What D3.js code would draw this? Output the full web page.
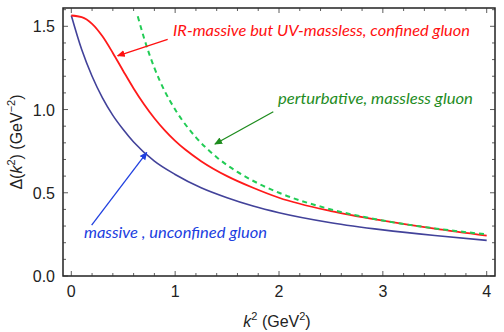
<!DOCTYPE html>
<html>
<head>
<meta charset="utf-8">
<script src="https://cdn.jsdelivr.net/npm/d3@7"></script>
<style>
  body { margin: 0; background: #fff; }
  svg text { font-family: "Liberation Sans", Arial, sans-serif; }
</style>
</head>
<body>
<svg id="chart" width="504" height="332"></svg>
<script>
// k^2 (GeV^2) sample points and Delta(k^2) (GeV^-2)
const kBlue = [0, 0.1, 0.2, 0.3, 0.4, 0.5, 0.6, 0.8, 1.0, 1.25, 1.5, 1.75, 2.0, 2.5, 3.0, 3.5, 4.0];
const deltaBlue = [1.565, 1.36, 1.2, 1.07, 0.965, 0.88, 0.805, 0.69, 0.61, 0.53, 0.47, 0.42, 0.38, 0.32, 0.277, 0.243, 0.214];

const kRed = [0, 0.1, 0.2, 0.3, 0.4, 0.5, 0.6, 0.7, 0.8, 0.9, 1.0, 1.1, 1.25, 1.5, 1.75, 2.0, 2.5, 3.0, 3.5, 4.0];
const deltaRed = [1.565, 1.555, 1.515, 1.44, 1.34, 1.232, 1.127, 1.032, 0.948, 0.875, 0.812, 0.758, 0.69, 0.6, 0.53, 0.47, 0.39, 0.333, 0.285, 0.243];

const kGreen = [0.64, 0.7, 0.8, 0.9, 1.0, 1.2, 1.4, 1.6, 1.8, 2.0, 2.5, 3.0, 3.5, 4.0];
const deltaGreen = [1.56, 1.43, 1.25, 1.11, 1.0, 0.833, 0.714, 0.625, 0.556, 0.5, 0.4, 0.333, 0.286, 0.25];

const xTicks = [0, 1, 2, 3, 4];
const yTicks = [0, 0.5, 1.0, 1.5];

const labels = [
  { text: 'IR-massive but UV-massless, confined gluon', k: 0.979, d: 1.441, color: '#ff1010', len: 297,
    from: [0.928, 1.422], to: [0.447, 1.323] },
  { text: 'perturbative, massless gluon', k: 1.99, d: 1.033, color: '#1e8c1e', len: 195,
    from: [1.945, 0.987], to: [1.384, 0.793] },
  { text: 'massive , unconfined gluon', k: 0.122, d: 0.228, color: '#2040e0', len: 183,
    from: [0.196, 0.306], to: [0.726, 0.741] }
];

function drawChart() {
  const svg = d3.select('svg#chart');
  const left = 63, right = 495, top = 8, bottom = 276;

  const x = d3.scaleLinear().domain([-0.08, 4.08]).range([left, right]);
  const y = d3.scaleLinear().domain([0, 1.61]).range([bottom, top]);

  svg.append('defs').append('clipPath').attr('id', 'plotclip')
    .append('rect')
    .attr('x', left).attr('y', top)
    .attr('width', right - left).attr('height', bottom - top);

  const line = d3.line()
    .x((d) => x(d[0]))
    .y((d) => y(d[1]))
    .curve(d3.curveMonotoneX);

  const plot = svg.append('g').attr('clip-path', 'url(#plotclip)');

  plot.append('path')
    .datum(d3.zip(kBlue, deltaBlue))
    .attr('fill', 'none')
    .attr('stroke', '#42429a')
    .attr('stroke-width', 1.6)
    .attr('d', line);

  plot.append('path')
    .datum(d3.zip(kRed, deltaRed))
    .attr('fill', 'none')
    .attr('stroke', '#ff1a1a')
    .attr('stroke-width', 1.8)
    .attr('d', line);

  plot.append('path')
    .datum(d3.zip(kGreen, deltaGreen))
    .attr('fill', 'none')
    .attr('stroke', '#22cc55')
    .attr('stroke-width', 2)
    .attr('stroke-dasharray', '5,4')
    .attr('d', line);

  // frame with inward ticks on all sides
  svg.append('rect')
    .attr('x', left).attr('y', top)
    .attr('width', right - left).attr('height', bottom - top)
    .attr('fill', 'none')
    .attr('stroke', '#222')
    .attr('stroke-width', 1.5);

  const minorX = d3.range(0, 4.01, 0.2);
  const minorY = d3.range(0, 1.61, 0.1);

  const tickG = svg.append('g').attr('stroke', '#333').attr('stroke-width', 0.8);
  minorX.forEach((v) => {
    const major = xTicks.some((t) => Math.abs(t - v) < 1e-6);
    const len = major ? 5 : 3;
    tickG.append('line').attr('x1', x(v)).attr('x2', x(v)).attr('y1', bottom).attr('y2', bottom - len);
    tickG.append('line').attr('x1', x(v)).attr('x2', x(v)).attr('y1', top).attr('y2', top + len);
  });
  minorY.forEach((v) => {
    const major = yTicks.some((t) => Math.abs(t - v) < 1e-6);
    const len = major ? 5 : 3;
    tickG.append('line').attr('x1', left).attr('x2', left + len).attr('y1', y(v)).attr('y2', y(v));
    tickG.append('line').attr('x1', right).attr('x2', right - len).attr('y1', y(v)).attr('y2', y(v));
  });

  svg.append('g').selectAll('text.xt').data(xTicks).enter()
    .append('text')
    .attr('class', 'xt')
    .attr('x', (d) => x(d))
    .attr('y', 297)
    .attr('text-anchor', 'middle')
    .attr('font-size', '16px')
    .attr('fill', '#222')
    .text((d) => d);

  svg.append('g').selectAll('text.yt').data(yTicks).enter()
    .append('text')
    .attr('class', 'yt')
    .attr('x', 55)
    .attr('y', (d) => y(d) + 6)
    .attr('text-anchor', 'end')
    .attr('font-size', '16px')
    .attr('fill', '#222')
    .text((d) => d.toFixed(1));

  // axis titles
  const xt = svg.append('text')
    .attr('x', 277).attr('y', 327)
    .attr('text-anchor', 'middle')
    .attr('font-size', '16px')
    .attr('fill', '#222');
  xt.append('tspan').attr('font-style', 'italic').text('k');
  xt.append('tspan').attr('font-size', '11px').attr('dy', -7).text('2');
  xt.append('tspan').attr('dy', 7).text(' (GeV');
  xt.append('tspan').attr('font-size', '11px').attr('dy', -7).text('2');
  xt.append('tspan').attr('dy', 7).text(')');

  const yt = svg.append('text')
    .attr('transform', 'translate(22,142) rotate(-90)')
    .attr('text-anchor', 'middle')
    .attr('font-size', '16px')
    .attr('fill', '#222');
  yt.append('tspan').text('\u0394(');
  yt.append('tspan').attr('font-style', 'italic').text('k');
  yt.append('tspan').attr('font-size', '11px').attr('dy', -7).text('2');
  yt.append('tspan').attr('dy', 7).text(') (GeV');
  yt.append('tspan').attr('font-size', '11px').attr('dy', -7).text('\u22122');
  yt.append('tspan').attr('dy', 7).text(')');

  // annotations with arrows
  const defs = svg.select('defs');
  labels.forEach((l, i) => {
    defs.append('marker')
      .attr('id', 'arrow' + i)
      .attr('viewBox', '0 -4 8 8')
      .attr('refX', 7).attr('refY', 0)
      .attr('markerWidth', 8).attr('markerHeight', 8)
      .attr('markerUnits', 'userSpaceOnUse')
      .attr('orient', 'auto')
      .append('path')
      .attr('d', 'M0,-3.5L8,0L0,3.5Z')
      .attr('fill', l.color);

    svg.append('line')
      .attr('x1', x(l.from[0])).attr('y1', y(l.from[1]))
      .attr('x2', x(l.to[0])).attr('y2', y(l.to[1]))
      .attr('stroke', l.color)
      .attr('stroke-width', 1.3)
      .attr('marker-end', `url(#arrow${i})`);

    svg.append('text')
      .attr('x', x(l.k)).attr('y', y(l.d))
      .attr('font-size', '15px')
      .attr('font-style', 'italic')
      .style('font-family', 'Lato, "Open Sans", sans-serif')
      .attr('fill', l.color)
      .attr('textLength', l.len)
      .attr('lengthAdjust', 'spacingAndGlyphs')
      .text(l.text);
  });
}

window.addEventListener('load', drawChart);
</script>
</body>
</html>
